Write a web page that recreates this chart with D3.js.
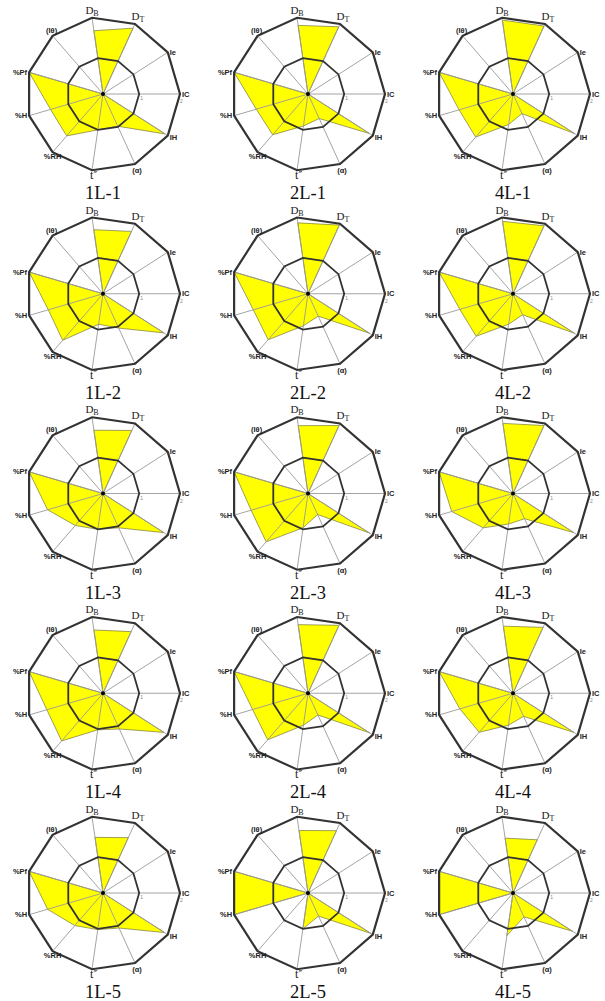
<!DOCTYPE html>
<html>
<head>
<meta charset="utf-8">
<script src="https://cdn.jsdelivr.net/npm/d3@7"></script>
<style>
  body { margin: 0; background: #fff; }
  svg { display: block; }
  .axlab { font-family: Arial, "Liberation Sans", sans-serif; font-weight: bold; font-size: 7.5px; fill: #222; }
  .axlab.serif { font-family: "Liberation Serif", "Times New Roman", serif; font-weight: normal; font-size: 11px; }
  .axlab.tt { font-size: 12px; }
  .prime { font-family: "DejaVu Sans", sans-serif; font-size: 10px; }
  .title { font-family: "Liberation Serif", "Times New Roman", serif; font-size: 18.5px; fill: #111; }
  .tick { font-family: Arial, sans-serif; font-size: 5px; fill: #888; }
</style>
</head>
<body>
<div class="chart"></div>
<script>
// axes, clockwise, starting at DB (near top)
var axes = ["DB", "DT", "Ie", "IC", "IH", "(α)", "t\u2033", "%RH", "%H", "%Pf", "(Iθ)"];
var ringLevels = [0.47, 1];
var tickLabels = ["1", "2"];

var panels = ["1L-1", "2L-1", "4L-1", "1L-2", "2L-2", "4L-2", "1L-3", "2L-3", "4L-3",
              "1L-4", "2L-4", "4L-4", "1L-5", "2L-5", "4L-5"];

// values per axis, same order as axes (fraction of outer ring)
var v1L1 = [0.83, 0.94, 0, 0, 0.96, 0.46, 0.47, 0.72, 0.71, 1, 0];
var v2L1 = [0.90, 0.96, 0, 0, 0.95, 0.35, 0.42, 0.70, 0.70, 1, 0];
var v4L1 = [0.97, 0.97, 0, 0, 0.95, 0.28, 0.40, 0.74, 0.73, 1, 0];
var v1L2 = [0.84, 0.89, 0, 0, 0.94, 0.49, 0.40, 0.80, 0.74, 1, 0];
var v2L2 = [0.93, 0.98, 0, 0, 0.95, 0.32, 0.42, 0.79, 0.74, 1, 0];
var v4L2 = [0.95, 0.97, 0, 0, 0.95, 0.30, 0.40, 0.73, 0.72, 1, 0];
var v1L3 = [0.83, 0.90, 0, 0, 0.94, 0.49, 0.47, 0.55, 0.75, 1, 0];
var v2L3 = [0.89, 0.97, 0, 0, 0.95, 0.30, 0.45, 0.83, 0.77, 1, 0];
var v4L3 = [0.92, 0.97, 0, 0, 0.94, 0.36, 0.40, 0.59, 0.83, 1, 0];
var v1L4 = [0.83, 0.88, 0, 0, 0.94, 0.51, 0.48, 0.82, 0.76, 1, 0];
var v2L4 = [0.90, 0.97, 0, 0, 0.95, 0.31, 0.42, 0.80, 0.75, 1, 0];
var v4L4 = [0.88, 0.94, 0, 0, 0.94, 0.33, 0.42, 0.67, 0.72, 1, 0];
var v1L5 = [0.73, 0.79, 0, 0, 0.95, 0.50, 0.48, 0.56, 0.75, 1, 0];
var v2L5 = [0.82, 0.89, 0, 0, 0.97, 0.33, 0.47, 0, 1, 1, 0];
var v4L5 = [0.72, 0.76, 0, 0, 0.92, 0.34, 0.56, 0, 1, 1, 0];

var values = [v1L1, v2L1, v4L1, v1L2, v2L2, v4L2, v1L3, v2L3, v4L3,
              v1L4, v2L4, v4L4, v1L5, v2L5, v4L5];

// label placement relative to each outer vertex
var labAnchor = ["middle", "middle", "start", "start", "start", "middle", "start", "middle", "end", "end", "middle"];
var labDx = [0, 3, 2, 2, 2, 2, -2, 0, -2, -2, -1];
var labDy = [-4, -4, 2.5, 2.5, 4, 9, 9, 7, 2.5, 2.5, -3];

var svgWidth = 605, svgHeight = 1001;
var R = 77;

var svg = d3.select(".chart").append("svg")
    .attr("width", svgWidth)
    .attr("height", svgHeight);

var xCol = d3.scaleLinear().domain([0, 2]).range([103, 513]);
var yRow = d3.scaleLinear().domain([0, 4]).range([94, 893]);
var rScale = d3.scaleLinear().domain([0, 1]).range([0, R]);
// radial angle: 0 = 12 o'clock, clockwise. IC (index 3) points right.
var aScale = d3.scaleLinear().domain([0, axes.length]).range([0, 2 * Math.PI]);
function ang(i) { return aScale(i - 3) + Math.PI / 2; }
function px(i, r) { return rScale(r) * Math.sin(ang(i)); }
function py(i, r) { return -rScale(r) * Math.cos(ang(i)); }

var idx = d3.range(axes.length);
var ringLine = d3.lineRadial()
    .angle(function(i) { return ang(i); })
    .curve(d3.curveLinearClosed);

panels.forEach(function(name, p) {
    var g = svg.append("g")
        .attr("transform", "translate(" + xCol(p % 3) + "," + yRow(Math.floor(p / 3)) + ")");

    // white background polygon
    g.append("path")
        .attr("d", ringLine.radius(rScale(1))(idx))
        .attr("fill", "#fff");

    // data area
    var vals = values[p];
    var area = d3.lineRadial()
        .angle(function(i) { return ang(i); })
        .radius(function(i) { return rScale(vals[i]); })
        .curve(d3.curveLinearClosed);
    g.append("path")
        .attr("d", area(idx))
        .attr("fill", "#ffff00")
        .attr("stroke", "#77773a")
        .attr("stroke-width", 0.7);

    // spokes
    g.selectAll(".spoke").data(idx).enter().append("line")
        .attr("class", "spoke")
        .attr("x1", 0).attr("y1", 0)
        .attr("x2", function(i) { return px(i, 1); })
        .attr("y2", function(i) { return py(i, 1); })
        .attr("stroke", "#9a9a9a")
        .attr("stroke-width", 0.9);

    // rings
    ringLevels.forEach(function(lv, k) {
        g.append("path")
            .attr("d", ringLine.radius(rScale(lv))(idx))
            .attr("fill", "none")
            .attr("stroke", "#333")
            .attr("stroke-width", k === 1 ? 2.2 : 1.8);
        g.append("text")
            .attr("class", "tick")
            .attr("x", rScale(lv) + (k === 1 ? 0 : 1))
            .attr("y", k === 1 ? 9 : 6)
            .text(tickLabels[k]);
    });

    g.append("circle").attr("r", 2).attr("fill", "#000");

    // axis labels
    axes.forEach(function(lab, i) {
        var t = g.append("text")
            .attr("class", "axlab")
            .attr("x", px(i, 1) + labDx[i])
            .attr("y", py(i, 1) + labDy[i])
            .attr("text-anchor", labAnchor[i]);
        if (lab.charAt(0) === "D") {
            t.classed("serif", true);
            t.append("tspan").text("D");
            t.append("tspan").attr("font-size", "8px").attr("dy", "2").text(lab.charAt(1));
        } else if (lab.charAt(0) === "t") {
            t.classed("serif", true).classed("tt", true);
            t.append("tspan").text("t");
            t.append("tspan")
                .attr("class", "prime")
                .attr("dy", "-0.5")
                .text(lab.slice(1));
        } else {
            t.text(lab);
        }
    });

    // panel title
    g.append("text")
        .attr("class", "title")
        .attr("x", 0)
        .attr("y", R + 28)
        .attr("text-anchor", "middle")
        .text(name);
});
</script>
</body>
</html>
